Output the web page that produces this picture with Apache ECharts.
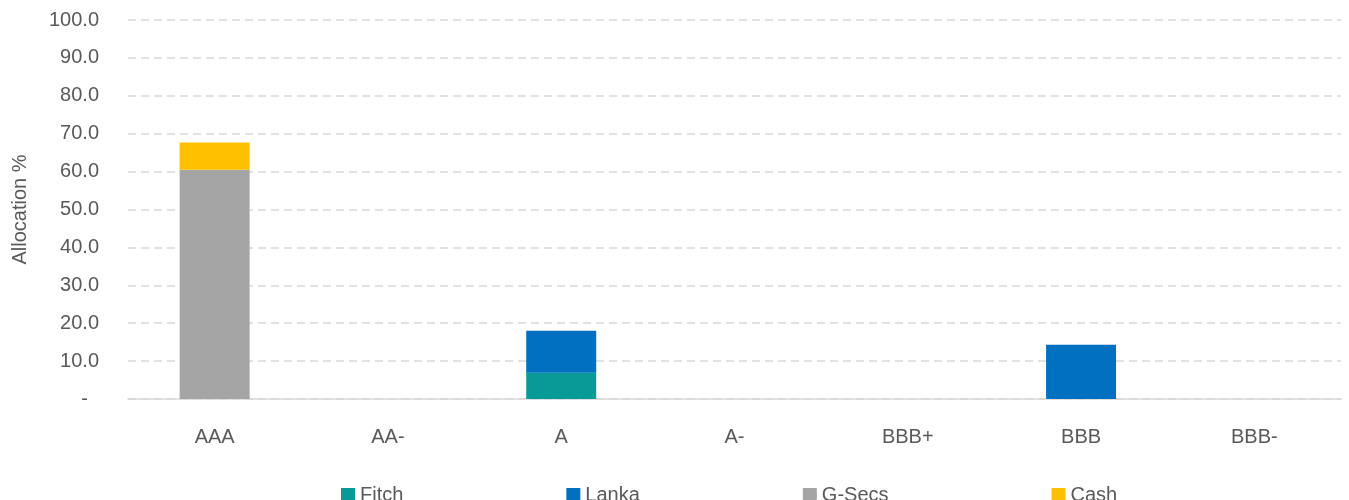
<!DOCTYPE html>
<html>
<head>
<meta charset="utf-8">
<script src="https://cdn.jsdelivr.net/npm/echarts@6/dist/echarts.min.js"></script>
<style>
  html, body { margin: 0; padding: 0; background: #fff; }
  #main { width: 1349px; height: 500px; }
</style>
</head>
<body>
<div id="main"></div>
<script>
const categories = ['AAA', 'AA-', 'A', 'A-', 'BBB+', 'BBB', 'BBB-']
const fitch = [null, null, 6.9, null, null, null, null]
const lanka = [null, null, 11.1, null, null, 14.3, null]
const gSecs = [60.5, null, null, null, null, null, null]
const cash = [7.2, null, null, null, null, null, null]

const font = 'Liberation Sans'
const textColor = '#595959'

const chart = echarts.init(document.getElementById('main'))

const bar = (name, data, color) => ({
  name: name,
  type: 'bar',
  stack: 'total',
  barWidth: 70,
  data: data,
  itemStyle: { color: color }
})

chart.setOption({
  animation: false,
  grid: { left: 128, right: 8, top: 20, bottom: 101 },
  legend: {
    left: 336,
    top: 480,
    itemWidth: 14,
    itemHeight: 14,
    itemGap: 163,
    icon: 'rect',
    textStyle: { fontFamily: font, fontSize: 20, color: textColor },
    data: ['Fitch', 'Lanka', 'G-Secs', 'Cash']
  },
  xAxis: {
    type: 'category',
    data: categories,
    axisLine: { lineStyle: { color: '#D9D9D9', width: 1.5 } },
    axisTick: { show: false },
    axisLabel: { margin: 28, fontFamily: font, fontSize: 20, color: textColor }
  },
  yAxis: {
    type: 'value',
    min: 0,
    max: 100,
    interval: 10,
    name: 'Allocation %',
    nameLocation: 'middle',
    nameGap: 98,
    nameTextStyle: { fontFamily: font, fontSize: 20, color: textColor },
    axisLine: { show: false },
    axisTick: { show: false },
    splitLine: { lineStyle: { color: '#D9D9D9', width: 1.5, type: [8, 5] } },
    axisLabel: {
      margin: 29,
      fontFamily: font,
      fontSize: 20,
      color: textColor,
      formatter: v => v === 0 ? '{z|-}' : v.toFixed(1),
      rich: { z: { fontFamily: font, fontSize: 20, color: textColor, padding: [0, 11, 0, 0] } }
    }
  },
  series: [
    bar('Fitch', fitch, '#079A96'),
    bar('Lanka', lanka, '#0070C0'),
    bar('G-Secs', gSecs, '#A5A5A5'),
    bar('Cash', cash, '#FFC000')
  ]
})

window.onresize = function () {
  chart.resize()
}
</script>
</body>
</html>
